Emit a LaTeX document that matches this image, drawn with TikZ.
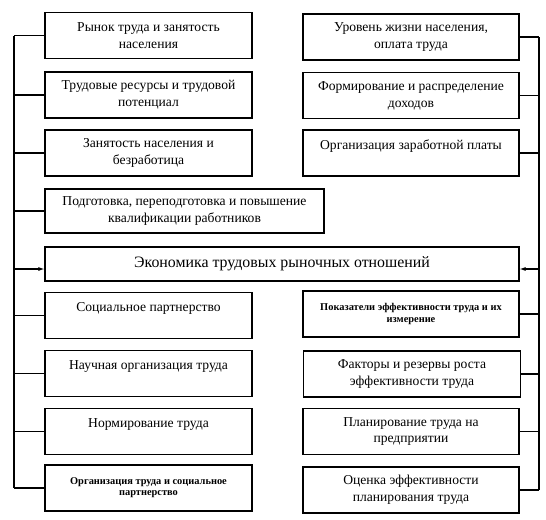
\documentclass[tikz,border=0pt]{standalone}
\usepackage{fontspec}
\setmainfont{Liberation Serif}
\usetikzlibrary{arrows.meta}

\begin{document}
\begin{tikzpicture}[x=0.75pt,y=-0.75pt,
  box/.style={draw=black,line width=0.8pt,align=center,inner sep=0pt,
    minimum height=34.5pt,font=\fontsize{10.2}{12.7}\selectfont},
  lbox/.style={box,minimum width=155.25pt},
  rbox/.style={box,minimum width=162pt},
  finetext/.style={font=\bfseries\fontsize{7.8}{8.4}\selectfont},
  link/.style={line width=0.8pt}]
\useasboundingbox (0,0) rectangle (546,519);

\node[lbox] (trud) at (148.5,35.5) {Рынок труда и занятость\\населения};
\node[lbox] (resurs) at (148.5,95) {Трудовые ресурсы и трудовой\\потенциал};
\node[lbox] (zan) at (148.5,153) {Занятость населения и\\безработица};
\node[box,minimum width=209.25pt,minimum height=33pt] (podg) at (184.5,211)
  {Подготовка, переподготовка и повышение\\квалификации работников};

\node[rbox] (uroven) at (411,37) {Уровень жизни населения,\\оплата труда};
\node[rbox] (dohod) at (411,95.5) {Формирование и распределение\\доходов};
\node[rbox] (zarpl) at (411,153) {Организация заработной платы\\\mbox{}};

\node[box,minimum width=355.5pt,minimum height=25.5pt,
  font=\fontsize{11.9}{13}\selectfont] (econ) at (282,264)
  {Экономика трудовых рыночных отношений};

\node[lbox] (soc) at (148.5,315.5) {Социальное партнерство\\\mbox{}};
\node[lbox] (nauch) at (148.5,373.5) {Научная организация труда\\\mbox{}};
\node[lbox] (norm) at (148.5,431.5) {Нормирование труда\\\mbox{}};
\node[lbox,finetext] (org) at (148.5,488) {Организация труда и социальное\\партнерство};

\node[rbox,finetext] (pokaz) at (411,314) {Показатели эффективности труда и их\\измерение};
\node[rbox,minimum width=162.75pt] (faktor) at (412,374) {Факторы и резервы роста\\эффективности труда};
\node[rbox] (plan) at (411,431.5) {Планирование труда на\\предприятии};
\node[rbox] (ocenka) at (411,490) {Оценка эффективности\\планирования труда};

\coordinate (lbus) at (14,0);
\coordinate (rbus) at (539,0);

\draw[link] (trud.west -| lbus) -- (org.west -| lbus);
\draw[link] (uroven.east -| rbus) -- (ocenka.east -| rbus);
\foreach \n in {trud,resurs,zan,podg,soc,nauch,norm,org}
  \draw[link] (\n.west) -- (\n.west -| lbus);
\foreach \n in {uroven,dohod,zarpl,pokaz,faktor,plan,ocenka}
  \draw[link] (\n.east) -- (\n.east -| rbus);

\draw[link,-{Latex[length=4.5pt,width=3pt]}] ([yshift=-3.75pt]econ.west -| lbus) -- ([yshift=-3.75pt]econ.west);
\draw[link,-{Latex[length=4.5pt,width=3pt]}] ([yshift=-3.75pt]econ.east -| rbus) -- ([yshift=-3.75pt]econ.east);
\end{tikzpicture}
\end{document}
